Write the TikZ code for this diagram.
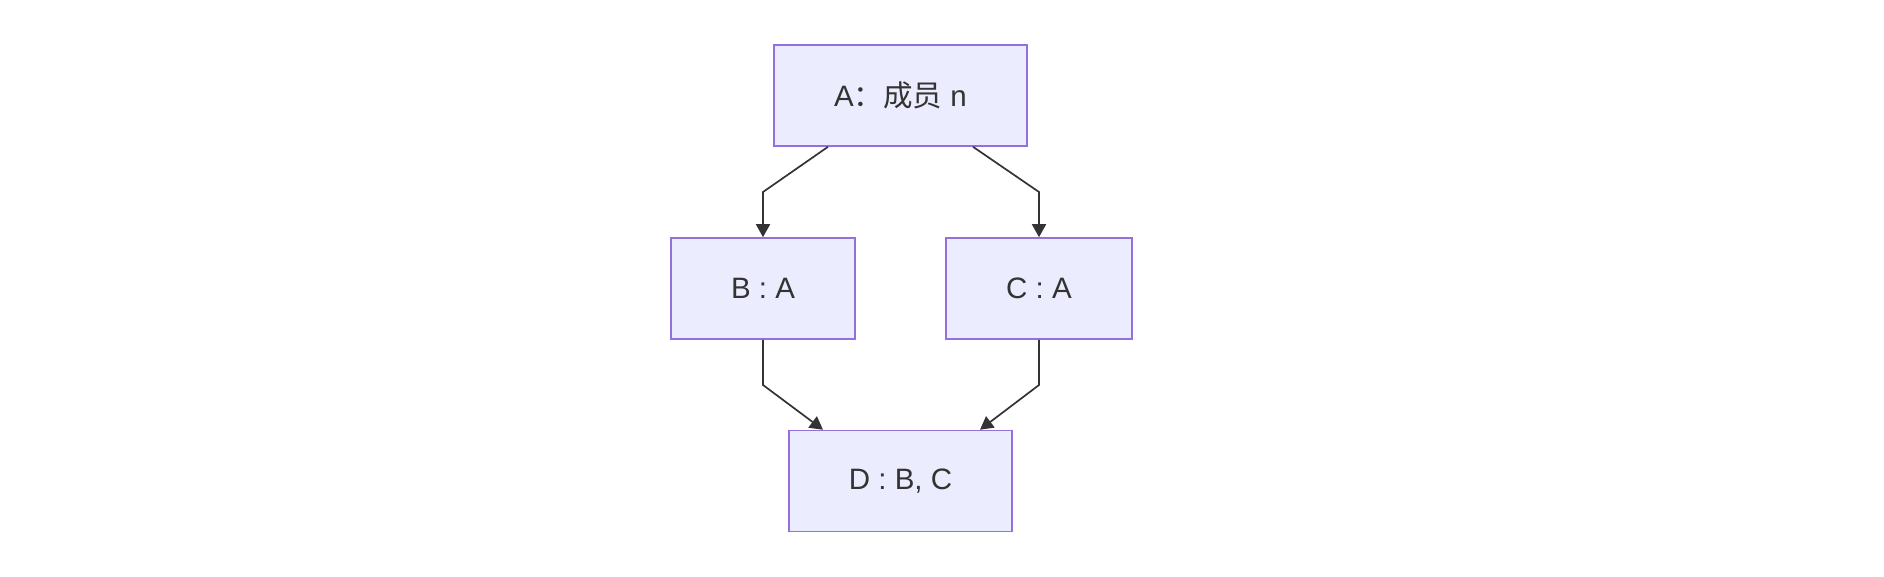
\documentclass[tikz,border=0pt]{standalone}
\usepackage{fontspec}
\setmainfont{Liberation Sans}
\newfontfamily\cjk{Noto Sans CJK SC}
\usetikzlibrary{arrows.meta}
\definecolor{boxfill}{HTML}{ECECFF}
\definecolor{boxline}{HTML}{9370DB}
\definecolor{edgeline}{HTML}{333333}
\tikzset{
  member/.style={draw=boxline, fill=boxfill, line width=1.6pt, inner sep=0pt,
    minimum height=101pt, text=edgeline, font=\fontsize{29.5}{35}\selectfont},
  link/.style={draw=edgeline, line width=1.7pt,
    -{Triangle[length=13pt,width=14pt]}}
}
\begin{document}
\begin{tikzpicture}[x=1pt,y=-1pt]

% Page frame
\useasboundingbox (0,0) rectangle (1884,576);

 \node[member, minimum width=253pt] (A) at (900.5,95.5) {A{\cjk ：成员} n};
 \node[member, minimum width=184pt] (B) at (763,288.5) {B : A};
 \node[member, minimum width=186pt] (C) at (1039,288.5) {C : A};
 \node[member, minimum width=223pt] (D) at (900.5,481) {D : B, C};

% Bends of the connectors
 \coordinate (ab) at (763,192);
 \coordinate (ac) at (1039,192);
 \coordinate (bd) at (763,385);
 \coordinate (cd) at (1039,385);

 \draw[link] ([xshift=-72.5pt]A.south) -- (ab) -- (B.north);
 \draw[link] ([xshift=72.5pt]A.south) -- (ac) -- (C.north);
 \draw[link] (B.south) -- (bd) -- ([xshift=-77.5pt]D.north);
 \draw[link] (C.south) -- (cd) -- ([xshift=79.5pt]D.north);

\end{tikzpicture}
\end{document}
